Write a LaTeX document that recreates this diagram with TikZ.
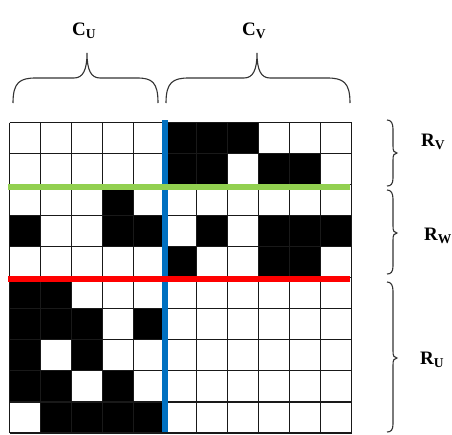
\documentclass[tikz,border=0pt]{standalone}
\usepackage{fontspec}
\setmainfont{Liberation Serif}
\definecolor{cblue}{HTML}{0070C0}
\definecolor{cgreen}{HTML}{92D050}
\definecolor{cred}{HTML}{FF0000}
\definecolor{bracecol}{HTML}{333333}
\newcommand{\lbl}[2]{{\fontsize{19}{19}\selectfont\bfseries #1\raisebox{-3pt}{\fontsize{13.5}{13.5}\selectfont\bfseries #2}}}
\tikzset{
  cell/.style={fill=black},
  gridline/.style={draw=black!90, line width=1.1pt},
  brace/.style={draw=bracecol, line width=1.1pt},
  sep/.style={line width=5.5pt},
  lab/.style={inner sep=0pt, anchor=base west}
}
\begin{document}
\begin{tikzpicture}[x=1pt,y=-1pt]
\useasboundingbox (0,0) rectangle (452,434);
\fill[white] (0,0) rectangle (452,434);
% black cells
\foreach \r/\c in {1/6,1/7,1/8,
                   2/6,2/7,2/9,2/10,
                   3/4,
                   4/1,4/4,4/5,4/7,4/9,4/10,4/11,
                   5/6,5/9,5/10,
                   6/1,6/2,
                   7/1,7/2,7/3,7/5,
                   8/1,8/3,
                   9/1,9/2,9/4,
                   10/2,10/3,10/4,10/5}
  \fill[cell] ({9.5+31.1*(\c-1)},{122.5+31.05*(\r-1)}) rectangle ++(31.1,31.05);
% grid
\foreach \i in {0,...,11}
  \draw[gridline] ({9.5+31.1*\i},122.5) -- ++(0,310.5);
\foreach \j in {0,...,10}
  \draw[gridline] (9.5,{122.5+31.05*\j}) -- ++(342.1,0);
% separators
\coordinate (bt) at (164.8,120);
\coordinate (bb) at (164.8,432);
\draw[sep, cblue] (bt) -- (bb);
\coordinate (gl) at (8,187);
\coordinate (gr) at (350,187);
\draw[sep, cgreen] (gl) -- (gr);
\coordinate (rl) at (8,279);
\coordinate (rr) at (350,279);
\draw[sep, cred] (rl) -- (rr);
% top braces
\draw[brace] (13,103) .. controls (13,82) and (20,78) .. (36,78) -- (74,78)
  .. controls (83,78) and (87,70) .. (87,53)
  .. controls (87,70) and (91,78) .. (100,78) -- (137,78)
  .. controls (152,78) and (158,82) .. (158,103);
\draw[brace] (166,103) .. controls (166,82) and (173,78) .. (189,78) -- (244,78)
  .. controls (253,78) and (257,70) .. (257,53)
  .. controls (257,70) and (261,78) .. (270,78) -- (327,78)
  .. controls (343,78) and (350,82) .. (350,103);
% right braces
\draw[brace] (387,120) .. controls (391,120) and (393,123) .. (393,129) -- (393,146)
  .. controls (393,151) and (394,153) .. (397,153)
  .. controls (394,153) and (393,155) .. (393,160) -- (393,178)
  .. controls (393,184) and (391,186) .. (387,186);
\draw[brace] (387,190) .. controls (391,190) and (393,193) .. (393,199) -- (393,226)
  .. controls (393,231) and (394,233) .. (397,233)
  .. controls (394,233) and (393,235) .. (393,240) -- (393,266)
  .. controls (393,272) and (391,274) .. (387,274);
\draw[brace] (387,282) .. controls (391,282) and (393,285) .. (393,291) -- (393,351)
  .. controls (393,356) and (394,358) .. (397,358)
  .. controls (394,358) and (393,360) .. (393,365) -- (393,424)
  .. controls (393,430) and (391,432) .. (387,432);
% labels
\node[lab] (cu) at (72,35) {\lbl{C}{U}};
\node[lab] (cv) at (242,35) {\lbl{C}{V}};
\node[lab] (rv) at (421,146) {\lbl{R}{V}};
\node[lab] (rw) at (424,240) {\lbl{R}{W}};
\node[lab] (ru) at (420,364) {\lbl{R}{U}};
\end{tikzpicture}
\end{document}
